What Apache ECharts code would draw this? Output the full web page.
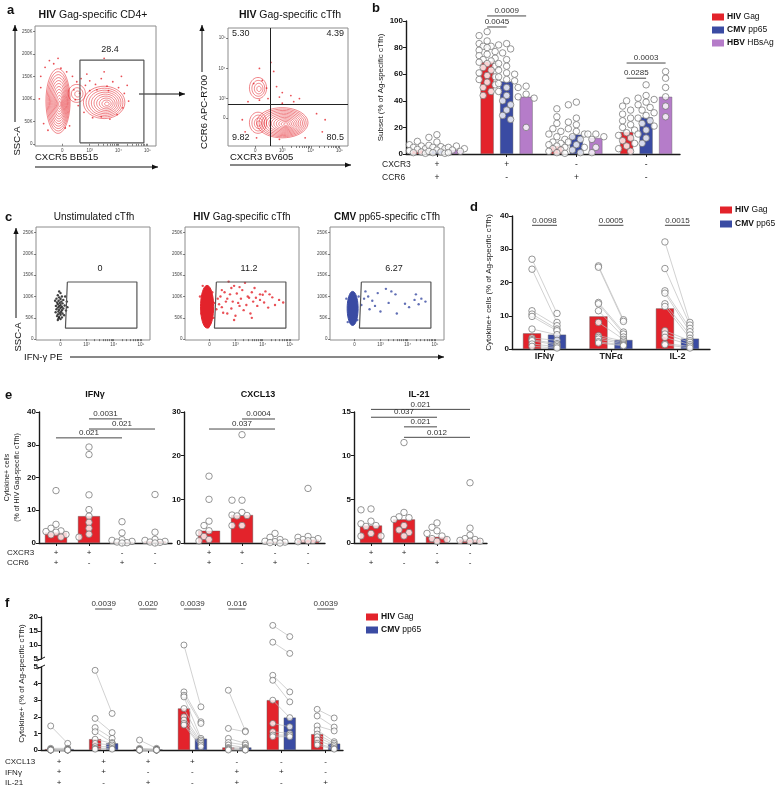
<!DOCTYPE html>
<html><head><meta charset="utf-8">
<script src="https://cdn.jsdelivr.net/npm/echarts@6/dist/echarts.min.js"></script>
<style>html,body{margin:0;padding:0;background:#fff}#c{width:777px;height:788px}</style>
</head><body><div id="c"></div>
<script>
// ---------------- DATA ----------------
// Panel a (flow, arbitrary display units)
const aLeftDots = [[1.3,150],[1.45,170],[1.6,185],[1.75,178],[2.0,168],[2.2,160],[2.4,150],[2.55,138],[2.7,145],[2.85,130],[3.0,140],[3.2,132],[3.4,145],[3.6,128],[3.8,138],[4.0,125],[4.2,112],[4.35,95],[4.15,80],[3.95,65],[3.7,55],[3.4,60],[3.1,58],[2.8,70],[2.6,85],[2.45,120],[2.3,40],[1.4,45],[1.55,30],[2.15,35],[1.25,100],[1.3,125],[2.5,98],[2.65,112],[3.0,118],[3.25,120],[3.65,118],[4.3,130],[4.1,150],[3.5,160],[2.9,155],[1.9,190],[3.5,190]];
const aLeftContours = [[1.9,95,0.42,72,12],[3.5,92,0.72,36,9],[2.55,112,0.3,20,3]];
const aLeftGate = [[2.66,2],[4.88,2],[4.88,186],[2.66,186],[2.66,2]];
const aLeftGateLabel = '28.4';
const aRightDots = [[2.3,3.6],[2.45,3.35],[2.7,3.9],[2.8,3.4],[3.0,3.2],[3.3,3.1],[3.6,3.0],[2.9,3.05],[2.2,2.95],[1.8,2.9],[2.0,3.5],[2.6,4.2],[4.2,2.5],[4.5,2.3],[1.6,2.3],[1.7,1.9],[2.1,1.7],[2.9,1.65],[3.8,1.7],[4.4,1.9],[3.0,2.85],[3.4,2.9],[2.5,3.0],[2.2,4.0]];
const aRightContours = [[3.0,2.2,0.9,0.5,12],[2.15,3.35,0.3,0.35,4],[2.15,2.2,0.3,0.35,4]];
const aQuadLabels = ['5.30','4.39','9.82','80.5'];
// Panel c (flow)
const cUnstimDots = [[2.0,112],[2.05,108],[1.95,103],[2.1,100],[2.0,98],[1.9,95],[2.05,94],[2.15,92],[1.98,90],[2.08,88],[1.92,86],[2.02,85],[2.12,84],[1.95,82],[2.05,80],[2.2,79],[1.88,78],[2.0,77],[2.1,76],[1.95,74],[2.05,73],[2.15,72],[1.9,70],[2.0,69],[2.1,68],[2.25,67],[1.97,65],[2.07,64],[1.87,63],[2.02,61],[2.12,60],[1.95,58],[2.05,57],[2.18,56],[1.92,54],[2.0,52],[2.1,51],[1.98,49],[2.05,47],[1.95,45],[2.3,75],[2.28,88],[1.85,90],[2.22,100]];
const cHivDots = [[2.35,95],[2.45,100],[2.6,110],[2.7,95],[2.8,105],[2.9,88],[3.05,107],[3.15,122],[3.25,115],[3.35,132],[3.5,97],[3.65,88],[3.75,97],[3.9,92],[4.0,104],[3.1,85],[3.4,80],[3.6,110],[2.75,135],[2.85,120],[2.5,75],[2.55,62],[2.95,125],[3.3,68],[3.55,60],[3.8,78],[4.05,86],[4.2,74],[2.4,82],[2.65,88],[2.3,70],[3.2,95],[3.45,100],[2.85,72],[3.0,55],[3.7,120],[4.1,112],[4.35,98],[4.45,80],[4.6,92],[4.75,86],[2.5,115],[2.95,45],[3.6,50],[3.9,105],[4.25,105],[2.7,60],[3.15,78],[1.7,100],[1.75,60],[2.15,110],[2.2,50],[1.8,125],[2.0,28],[1.9,35],[2.25,85]];
const cHivBlob = [[1.96,76,0.24,50]];
const cCmvDots = [[2.4,95],[2.55,100],[2.7,90],[2.9,108],[3.2,118],[3.4,112],[3.55,105],[3.3,85],[2.6,70],[2.8,78],[3.9,83],[4.05,75],[4.25,92],[4.3,105],[4.5,95],[4.4,82],[3.6,60],[2.45,112],[3.0,65],[4.65,88],[1.75,95],[2.2,100],[1.8,40],[2.15,45],[2.3,80]];
const cCmvBlob = [[1.98,72,0.2,40]];
const cGate = [[2.3,134],[4.85,134],[4.85,26],[2.23,26],[2.3,134]];
const cGateLabels = ['0','11.2','6.27'];

// Panel b
const bCXCR3 = ['+','+','-','-'];
const bCCR6  = ['+','-','+','-'];
const bBarHIV = [3, 69.5, 6, 16.5];
const bBarCMV = [3, 54.5, 14.5, 27.5];
const bBarHBV = [3, 43, 12, 43];
const bPtsHIV = [[9.5,7,6,5,4,3.5,2.5,1.5,1,0.5],
  [92,89,85,83,81,81,80,78,77,75,74,72,71,70,69,68,66,65,63,61,59,58,56,54,52,50,47,44],
  [34,28,23,19,17,15,13,11,9,8,7,6,5,4,3,2,1,0.5],
  [40,36,33,30,27,25,22,20,18,16,14,12,10,8,6,4,2]];
const bPtsCMV = [[14.5,12.5,9,6.5,5.5,5,4,3,2,1.5,1,0.5],
  [83,82,79,76,71,68,66,63,61,60,58,56,55,53,50,47,44,40,37,33,29,26],
  [39,37,27,24,22,19,17,15,13,11,9,7,5,3,1],
  [52,44,42,41,39,37,35,33,31,29,27,25,23,21,18,15,12,8]];
const bPtsHBV = [[6,5,4,3,2,1],[51,50,45,43,42,20],[15,15,13,11,5,1],[62,57,50,43,36,28]];
const bPvals = ['0.0045','0.0009','0.0003','0.0285'];

// Panel d
const dCats = ['IFNγ','TNFα','IL-2'];
const dBarHIV = [4.7, 9.8, 12.2];
const dBarCMV = [4.3, 2.7, 3.1];
const dPtsHIV = [[27,24,11.5,10.5,9.8,6,3.3,2.8,2.5,1.5,0.8],[25,24.6,14,13.6,11.5,8,4,3.5,3,2.2,1.8],[32.2,24.2,17.5,16.8,13.6,12.8,5.5,4.5,3.5,1.6,1.3]];
const dPtsCMV = [[10.7,8,7,6,5.5,4.3,2.6,1.6,1.2,0.7,0.3],[8.8,8.3,5.1,4.5,3.6,2.9,2.4,1.9,1.5,1.2,1.0],[8,7.2,6.2,5.2,4.2,3.2,2.5,2,1.3,0.8,0.3]];
const dPvals = ['0.0098','0.0005','0.0015'];

// Panel e
const eCXCR3 = ['+','+','-','-'];
const eCCR6  = ['+','-','+','-'];
const eTitles = ['IFNγ','CXCL13','IL-21'];
const eIFNgBar = [3.2, 8.2, 0.3, 0.5];
const eIFNgPts = [[16,5.7,4.5,3.7,3.5,3.3,2.6,2.5,1.8],[29.3,27,14.7,10.2,8.2,6.3,4.5,2.7,1.8],[6.5,3.1,1,0.8,0.5,0.3,0.1,0],[14.8,3.3,1.1,0.8,0.5,0.3,0.2,0]];
const eCXCL13Bar = [2.8, 6.4, 0.3, 0.8];
const eCXCL13Pts = [[15.3,10,5,4,2.8,2.3,1.5,0.8,0.5],[24.8,9.8,9.8,7,6.4,6.3,6.2,4,4],[2.2,1.3,0.8,0.4,0.3,0.2,0.1,0],[12.5,1.5,1.3,1,0.8,0.6,0.5,0.3]];
const eIL21Bar = [2.0, 2.7, 0.7, 0.4];
const eIL21Pts = [[3.9,3.8,2.5,2.2,2.0,1.9,1.1,0.8,0.8],[11.5,3.5,3.0,2.9,2.7,2.0,1.5,1.2,0.8],[2.3,1.8,1.4,1.1,0.8,0.5,0.4,0.2],[6.9,1.7,0.9,0.5,0.4,0.3,0.2,0.2]];
const eIFNgP = [[1,3,'0.021'],[2,4,'0.021'],[2,3,'0.0031']];
const eCXCL13P = [[1,3,'0.037'],[2,3,'0.0004']];
const eIL21P = [[1,4,'0.021'],[1,3,'0.037'],[2,3,'0.021'],[2,4,'0.012']];

// Panel f
const fCXCL13 = ['+','+','+','+','-','-','-'];
const fIFNg   = ['+','+','-','-','+','+','-'];
const fIL21   = ['+','-','+','-','+','-','+'];
const fBarHIV = [0.05, 0.65, 0.03, 2.5, 0.15, 3.0, 0.95];
const fBarCMV = [0.05, 0.4, 0.03, 0.68, 0.15, 1.95, 0.38];
const fPtsHIV = [[1.45,0.1,0.05,0.02,0,0,0,0,0],[4.8,1.9,1.35,1.1,0.65,0.4,0.2,0.1,0.05],[0.6,0.1,0.05,0.02,0,0,0,0,0],[10,3.5,3.3,3.2,2.5,2.0,1.8,1.6,1.5],[3.6,1.3,0.7,0.45,0.3,0.15,0.1,0.05,0],[17,11,4.5,4.2,3.0,1.6,1.1,0.9,0.8],[2.45,2.05,1.45,1.2,0.96,0.8,0.6,0.4,0.3]];
const fPtsCMV = [[0.4,0.1,0.05,0.02,0,0,0,0,0],[2.2,1.05,0.7,0.45,0.4,0.3,0.2,0.1,0.05],[0.1,0.05,0.02,0,0,0,0,0,0],[2.6,1.7,1.6,0.7,0.6,0.5,0.4,0.3,0.2],[1.15,1.1,0.4,0.3,0.15,0.1,0.05,0,0],[13,7,3.5,2.9,1.95,1.4,1.0,0.9,0.8],[1.93,1.38,1.15,0.5,0.4,0.3,0.2,0.1,0.05]];
const fPvals = ['', '0.0039', '0.020', '0.0039', '0.016', '', '0.0039'];

// ---------------- STYLE / LAYOUT ----------------
const FONT = '"Liberation Sans", Arial, Helvetica, sans-serif';
const RED = '#e3232b', BLUE = '#3a4ba3', PURPLE = '#b57cc9';
const grid = [], xAxis = [], yAxis = [], series = [], graphic = [];

function nearestIdx(arr, v){ let b = 0; for (let i = 1; i < arr.length; i++) if (Math.abs(arr[i]-v) < Math.abs(arr[b]-v)) b = i; return b; }
function txt(x, y, text, o = {}){
  graphic.push({type:'text', x, y, rotation:o.rot||0, silent:true, z:100,
    style:{text, fill:o.color||'#111', fontSize:o.size||9, fontFamily:FONT, fontWeight:o.weight||'normal',
      align:o.align||'left', verticalAlign:o.va||'middle', rich:o.rich}});
}
function richTitle(x, y, a, b, size, align){
  txt(x, y, `{b|${a}}{n| ${b}}`, {align:align||'center', rich:{
    b:{fontWeight:'bold', fontSize:size, fontFamily:FONT, fill:'#111', color:'#111'},
    n:{fontSize:size, fontFamily:FONT, fill:'#111', color:'#111'}}});
}
function arrow(x1, y1, x2, y2){
  graphic.push({type:'line', silent:true, shape:{x1, y1, x2, y2}, style:{stroke:'#111', lineWidth:1}});
  const a = Math.atan2(y2-y1, x2-x1), L = 6, W = 2.6;
  graphic.push({type:'polygon', silent:true, shape:{points:[[x2,y2],
    [x2-L*Math.cos(a)+W*Math.sin(a), y2-L*Math.sin(a)-W*Math.cos(a)],
    [x2-L*Math.cos(a)-W*Math.sin(a), y2-L*Math.sin(a)+W*Math.cos(a)]]}, style:{fill:'#111'}});
}
function legendBox(x, y, dy, items, size){
  items.forEach((it, k) => {
    graphic.push({type:'rect', silent:true, shape:{x, y:y+k*dy-3.5, width:12, height:7}, style:{fill:it[0]}});
    richTitle(x+15, y+k*dy, it[1], it[2], size, 'left');
  });
}
function ellipsePts(cx, cy, rx, ry){ const p = []; for (let i = 0; i < 40; i++){ const t = i/40*2*Math.PI; p.push([cx+rx*Math.cos(t), cy+ry*Math.sin(t)]); } return p; }

// ---------------- FLOW PANELS ----------------
const flowXTicks = [2.05].concat([3,4].flatMap(d => [1,2,3,4,5,6,7,8,9].map(k => d+Math.log10(k)))).concat([5]);
function flowPanel(o){
  const gi = grid.length;
  grid.push({left:o.left, top:o.top, width:o.width, height:o.height, show:true, borderColor:'#8c8c8c', borderWidth:1, backgroundColor:'rgba(0,0,0,0)'});
  const xi = xAxis.length, yi = yAxis.length;
  xAxis.push({gridIndex:gi, type:'value', min:o.xMin, max:o.xMax, axisLine:{show:false}, splitLine:{show:false},
    axisTick:{show:true, customValues:o.xTicks, length:2, lineStyle:{color:'#333', width:0.6}},
    axisLabel:{customValues:o.xLabVals, formatter:v => o.xLabs[nearestIdx(o.xLabVals, v)], fontSize:4.5, color:'#444', margin:2.5, fontFamily:FONT}});
  yAxis.push({gridIndex:gi, type:'value', min:o.yMin, max:o.yMax, axisLine:{show:false}, splitLine:{show:false},
    axisTick:{show:true, customValues:o.yLabVals, length:2, lineStyle:{color:'#333', width:0.6}},
    axisLabel:{customValues:o.yLabVals, formatter:v => o.yLabs[nearestIdx(o.yLabVals, v)], fontSize:4.5, color:'#444', margin:2.5, fontFamily:FONT}});
  if (o.contours) series.push({type:'custom', xAxisIndex:xi, yAxisIndex:yi, silent:true, z:2, data:o.contours, encode:{x:0, y:1},
    renderItem:(p, api) => { const c = api.coord([api.value(0), api.value(1)]); const s = api.size([api.value(2), api.value(3)]); const n = api.value(4); const ch = [];
      for (let k = 1; k <= n; k++) ch.push({type:'polygon', shape:{points:ellipsePts(c[0]+(n-k)*0.15*s[0]/n, c[1]+(n-k)*0.1*s[1]/n, s[0]*k/n, s[1]*k/n)}, style:{fill:'none', stroke:o.color, lineWidth:0.55}});
      return {type:'group', children:ch}; }});
  if (o.blobs) series.push({type:'custom', xAxisIndex:xi, yAxisIndex:yi, silent:true, z:2, data:o.blobs, encode:{x:0, y:1},
    renderItem:(p, api) => { const c = api.coord([api.value(0), api.value(1)]); const s = api.size([api.value(2), api.value(3)]);
      return {type:'polygon', shape:{points:ellipsePts(c[0], c[1], s[0], s[1])}, style:{fill:o.color, stroke:o.color, lineWidth:1}}; }});
  const sc = {type:'scatter', xAxisIndex:xi, yAxisIndex:yi, data:o.dots, symbolSize:o.dotSize||2.2, itemStyle:{color:o.color}, silent:true, z:3};
  if (o.quad) sc.markLine = {silent:true, symbol:'none', label:{show:false}, lineStyle:{color:'#222', width:1, type:'solid'}, data:[{xAxis:o.quad[0]}, {yAxis:o.quad[1]}]};
  series.push(sc);
  if (o.gate) series.push({type:'line', xAxisIndex:xi, yAxisIndex:yi, data:o.gate, showSymbol:false, symbol:'none', lineStyle:{color:'#555', width:1.2}, silent:true, z:4});
}
const decadeLabs = ['0','10³','10⁴','10⁵'];
const sscVals = [0,50,100,150,200,250], sscLabs = ['0','50K','100K','150K','200K','250K'];
flowPanel({left:35, top:26, width:121, height:120, xMin:1.1, xMax:5.3, yMin:-5, yMax:262, xTicks:flowXTicks, xLabVals:[2.05,3,4,5], xLabs:decadeLabs,
  yLabVals:sscVals, yLabs:sscLabs, color:RED, dots:aLeftDots, contours:aLeftContours, gate:aLeftGate, dotSize:1.8});
flowPanel({left:228, top:28, width:120, height:118, xMin:1.1, xMax:5.3, yMin:1.43, yMax:5.34, xTicks:flowXTicks, xLabVals:[2.05,3,4,5], xLabs:decadeLabs,
  yLabVals:[2.35,3,4,5], yLabs:decadeLabs, color:RED, dots:aRightDots, contours:aRightContours, quad:[2.57,2.8], dotSize:1.8});
const cLefts = [36, 185, 330];
const cDots = [cUnstimDots, cHivDots, cCmvDots], cBlobs = [null, cHivBlob, cCmvBlob], cCols = ['#111', RED, BLUE];
cLefts.forEach((l, k) => flowPanel({left:l, top:227, width:114, height:113, xMin:1.15, xMax:5.33, yMin:-2, yMax:263, xTicks:flowXTicks,
  xLabVals:[2.05,3,4,5], xLabs:decadeLabs, yLabVals:sscVals, yLabs:sscLabs, color:cCols[k], dots:cDots[k], blobs:cBlobs[k], gate:cGate, dotSize:2.4}));

// flow texts
txt(7, 10, 'a', {size:13, weight:'bold'});
richTitle(93, 15, 'HIV', 'Gag-specific CD4+', 10.5);
richTitle(290, 15, 'HIV', 'Gag-specific cTfh', 10.5);
txt(110, 50, aLeftGateLabel, {size:9, align:'center', color:'#222'});
txt(232, 34, aQuadLabels[0], {size:9, color:'#222'});
txt(344, 34, aQuadLabels[1], {size:9, align:'right', color:'#222'});
txt(232, 138, aQuadLabels[2], {size:9, color:'#222'});
txt(344, 138, aQuadLabels[3], {size:9, align:'right', color:'#222'});
arrow(15, 122, 15, 25);
txt(17, 141, 'SSC-A', {size:9.5, rot:Math.PI/2, align:'center'});
txt(35, 157, 'CXCR5 BB515', {size:9.5});
arrow(35, 167, 158, 167);
arrow(139, 94, 185, 94);
arrow(202, 72, 202, 25);
txt(204, 112, 'CCR6 APC-R700', {size:9.5, rot:Math.PI/2, align:'center'});
txt(230, 157, 'CXCR3 BV605', {size:9.5});
arrow(230, 165, 351, 165);
txt(5, 217, 'c', {size:13, weight:'bold'});
txt(94, 217, 'Unstimulated cTfh', {size:10, align:'center'});
richTitle(242, 217, 'HIV', 'Gag-specific cTfh', 10);
richTitle(387, 217, 'CMV', 'pp65-specific cTfh', 10);
cLefts.forEach((l, k) => txt(l+64, 269, cGateLabels[k], {size:9, align:'center', color:'#222'}));
arrow(16, 318, 16, 228);
txt(18, 337, 'SSC-A', {size:9.5, rot:Math.PI/2, align:'center'});
txt(24, 357, 'IFN-γ PE', {size:9.5});
arrow(70, 357, 444, 357);

// ---------------- BAR PANELS ----------------
function swarm(vals, pxY, d, step, maxK){
  const placed = [], out = [];
  vals.forEach(v => {
    const y = v*pxY; let best = 0, bestScore = -1;
    const cands = [0]; for (let k = 1; k <= maxK; k++) cands.push(-k*step, k*step);
    for (const c of cands){ let md = Infinity; for (const p of placed){ const dd = Math.hypot(p[0]-c, p[1]-y); if (dd < md) md = dd; }
      if (md >= d){ best = c; break; } if (md > bestScore){ bestScore = md; best = c; } }
    placed.push([best, y]); out.push(best);
  });
  return out;
}
function barPanel(o){
  const gi = grid.length;
  grid.push({left:o.left, top:o.top, width:o.width, height:o.height});
  const xi = xAxis.length, yi = yAxis.length;
  const n = o.nGroups, centers = Array.from({length:n}, (_, i) => i+1);
  const pxX = o.width/(o.xMax-o.xMin), pxY = o.height/(o.yMax-o.yMin);
  const T = o.yT || (v => v);
  const AX = {color:'#1a1a1a', width:1.4};
  xAxis.push({gridIndex:gi, type:'value', min:o.xMin, max:o.xMax, show:o.xShow !== false,
    axisLine:{show:true, onZero:false, lineStyle:AX}, splitLine:{show:false},
    axisTick:{show:true, customValues:centers, length:3, lineStyle:{color:'#1a1a1a', width:1}},
    axisLabel:{customValues:centers, formatter:v => o.xLabel(Math.round(v)-1), fontSize:o.xFont||8, lineHeight:o.xLH||12, margin:o.xMargin||4,
      color:'#222', fontFamily:FONT, fontWeight:o.xBold ? 'bold' : 'normal'}});
  const ya = {gridIndex:gi, type:'value', min:o.yMin, max:o.yMax, interval:o.yInt,
    axisLine:{show:true, lineStyle:AX}, axisTick:{show:true, length:3, lineStyle:{color:'#1a1a1a', width:1}}, splitLine:{show:false},
    axisLabel:{fontSize:8, fontWeight:'bold', color:'#111', margin:3, fontFamily:FONT},
    name:o.yName, nameLocation:'middle', nameGap:o.yNameGap, nameRotate:90,
    nameTextStyle:{fontSize:o.yNameSize||8, color:'#222', fontFamily:FONT, lineHeight:o.yNameLH||10}};
  if (o.yHideAxis){ ya.axisLine = {show:false}; ya.axisTick = {show:false}; ya.axisLabel = {show:false}; }
  yAxis.push(ya);
  const xOf = (g, s) => g + o.offsets[s]/pxX;
  const bars = [];
  o.sets.forEach((st, s) => st.bars.forEach((v, i) => bars.push({value:[xOf(i+1, s), T(v)], itemStyle:{color:st.color}})));
  series.push({type:'bar', xAxisIndex:xi, yAxisIndex:yi, barWidth:o.barWidth, data:bars, silent:true, z:2,
    itemStyle:{borderColor:'#555', borderWidth:0.4}});
  const pts = [], ptPos = [];
  o.sets.forEach((st, s) => { ptPos.push([]); st.pts.forEach((vals, i) => {
    const offs = o.paired ? vals.map(() => 0) : swarm(vals, pxY, o.dot*0.9, o.step, o.maxK);
    const pos = vals.map((v, k) => [xOf(i+1, s) + offs[k]/pxX, T(v)]);
    ptPos[s].push(pos); pos.forEach(p => pts.push(p)); }); });
  if (o.paired){
    const segs = [];
    ptPos[0].forEach((pos, i) => pos.forEach((p, k) => { const q = ptPos[1][i][k]; if (q) segs.push([p[0], p[1], q[0], q[1]]); }));
    series.push({type:'custom', xAxisIndex:xi, yAxisIndex:yi, silent:true, z:3, clip:false, data:segs, encode:{x:[0,2], y:[1,3]},
      renderItem:(p, api) => { const a = api.coord([api.value(0), api.value(1)]), b = api.coord([api.value(2), api.value(3)]);
        return {type:'line', shape:{x1:a[0], y1:a[1], x2:b[0], y2:b[1]}, style:{stroke:'#bdbdbd', lineWidth:0.7}}; }});
  }
  series.push({type:'scatter', xAxisIndex:xi, yAxisIndex:yi, data:pts, symbolSize:o.dot, silent:true, z:4, clip:false,
    itemStyle:{color:'#fff', borderColor:'#6e6e6e', borderWidth:0.9}});
  if (o.brackets){
    const bd = o.brackets.map(b => [xOf(b[0], b[1]), xOf(b[2], b[3]), b[4]]);
    series.push({type:'custom', xAxisIndex:xi, yAxisIndex:yi, silent:true, z:5, clip:false, data:bd, encode:{x:[0,1], y:2},
      renderItem:(p, api) => { const a = api.coord([api.value(0), api.value(2)]), b = api.coord([api.value(1), api.value(2)]);
        return {type:'group', children:[
          {type:'line', shape:{x1:a[0], y1:a[1], x2:b[0], y2:b[1]}, style:{stroke:'#333', lineWidth:0.9}},
          {type:'text', x:(a[0]+b[0])/2, y:a[1]-1, style:{text:o.brackets[p.dataIndex][5], fill:'#333', fontSize:8, fontFamily:FONT, align:'center', verticalAlign:'bottom'}}]}; }});
  }
}

// Panel b
txt(372, 8, 'b', {size:13, weight:'bold'});
barPanel({left:406, top:21, width:274, height:133, xMin:0.557, xMax:4.486, yMin:0, yMax:100, yInt:20, nGroups:4,
  xLabel:i => bCXCR3[i] + '\n' + bCCR6[i], xLH:13, xMargin:4, xFont:8.5,
  yName:'Subset (% of Ag-specific cTfh)', yNameGap:15, yNameSize:8,
  offsets:[-19.5, 0, 19.5], barWidth:13, dot:6.5, step:4, maxK:2,
  sets:[{color:RED, bars:bBarHIV, pts:bPtsHIV}, {color:BLUE, bars:bBarCMV, pts:bPtsCMV}, {color:PURPLE, bars:bBarHBV, pts:bPtsHBV}],
  brackets:[[2,0,2,1,95.5,bPvals[0]],[2,0,2,2,103.8,bPvals[1]],[4,0,4,2,68.4,bPvals[2]],[4,0,4,1,57,bPvals[3]]]});
txt(382, 165, 'CXCR3', {size:8.5, color:'#222'});
txt(382, 178, 'CCR6', {size:8.5, color:'#222'});
legendBox(712, 17, 13, [[RED,'HIV','Gag'],[BLUE,'CMV','pp65'],[PURPLE,'HBV','HBsAg']], 8.5);

// Panel d
txt(470, 207, 'd', {size:13, weight:'bold'});
barPanel({left:512, top:216, width:198, height:133, xMin:0.511, xMax:3.49, yMin:0, yMax:40, yInt:10, nGroups:3,
  xLabel:i => dCats[i], xBold:true, xFont:9, xLH:10, xMargin:3,
  yName:'Cytokine+ cells (% of Ag-specific cTfh)', yNameGap:18, yNameSize:8,
  offsets:[-12.5, 12.5], barWidth:18, dot:6.5, paired:true,
  sets:[{color:RED, bars:dBarHIV, pts:dPtsHIV}, {color:BLUE, bars:dBarCMV, pts:dPtsCMV}],
  brackets:dPvals.map((p, i) => [i+1, 0, i+1, 1, 37.2, p])});
legendBox(720, 210, 14, [[RED,'HIV','Gag'],[BLUE,'CMV','pp65']], 8.5);

// Panel e
txt(5, 395, 'e', {size:13, weight:'bold'});
const eCfg = [
  {left:39, width:133, xMin:0.485, yMax:40, yInt:10, bars:eIFNgBar, pts:eIFNgPts, p:eIFNgP, h:[32.1,34.8,37.9], title:95},
  {left:184, width:141, xMin:0.242, yMax:30, yInt:10, bars:eCXCL13Bar, pts:eCXCL13Pts, p:eCXCL13P, h:[26.1,28.4], title:258},
  {left:354, width:133, xMin:0.485, yMax:15, yInt:5, bars:eIL21Bar, pts:eIL21Pts, p:eIL21P, h:[15.3,14.4,13.3,12.1], title:419}];
eCfg.forEach((c, k) => {
  barPanel({left:c.left, top:412, width:c.width, height:131, xMin:c.xMin, xMax:4.515, yMin:0, yMax:c.yMax, yInt:c.yInt, nGroups:4,
    xLabel:i => eCXCR3[i] + '\n' + eCCR6[i], xLH:10, xMargin:5, xFont:8,
    yName:k === 0 ? 'Cytokine+ cells\n(% of HIV Gag-specific cTfh)' : '', yNameGap:17, yNameSize:7, yNameLH:10,
    offsets:[0], barWidth:22, dot:6.5, step:5, maxK:2,
    sets:[{color:RED, bars:c.bars, pts:c.pts}],
    brackets:c.p.map((b, j) => [b[0], 0, b[1], 0, c.h[j], b[2]])});
  txt(c.title, 395, eTitles[k], {size:9, weight:'bold', align:'center'});
});
txt(7, 553, 'CXCR3', {size:8, color:'#222'});
txt(7, 563, 'CCR6', {size:8, color:'#222'});

// Panel f (broken axis: 0-5 lower, 5-20 upper compressed)
txt(5, 603, 'f', {size:13, weight:'bold'});
const fLowH = 83, fGapH = 8, fUpH = 42, fPx = fLowH/5;
const fT = v => v <= 5 ? v : 5 + fGapH/fPx + (v-5)*(fUpH/15)/fPx;
const fTop = 750 - fT(20)*fPx;
const AXF = {color:'#1a1a1a', width:1.4};
grid.push({left:41, top:667, width:302, height:fLowH});
xAxis.push({gridIndex:grid.length-1, type:'value', min:0.59, max:7.39, axisLine:{show:true, lineStyle:AXF}, splitLine:{show:false},
  axisTick:{show:true, customValues:[1,2,3,4,5,6,7], length:3, lineStyle:{color:'#1a1a1a'}},
  axisLabel:{customValues:[1,2,3,4,5,6,7], formatter:v => { const i = Math.round(v)-1; return fCXCL13[i]+'\n'+fIFNg[i]+'\n'+fIL21[i]; },
    fontSize:8, lineHeight:10.5, margin:6.5, color:'#222', fontFamily:FONT}});
yAxis.push({gridIndex:grid.length-1, type:'value', min:0, max:5, interval:1, axisLine:{show:true, lineStyle:AXF},
  axisTick:{show:true, length:3, lineStyle:{color:'#1a1a1a'}}, splitLine:{show:false}, axisLabel:{fontSize:8, fontWeight:'bold', color:'#111', margin:3, fontFamily:FONT}});
grid.push({left:41, top:617, width:302, height:fUpH});
xAxis.push({gridIndex:grid.length-1, type:'value', min:0.59, max:7.39, show:false});
yAxis.push({gridIndex:grid.length-1, type:'value', min:5, max:20, interval:5, axisLine:{show:true, lineStyle:AXF},
  axisTick:{show:true, length:3, lineStyle:{color:'#1a1a1a'}}, splitLine:{show:false}, axisLabel:{fontSize:8, fontWeight:'bold', color:'#111', margin:3, fontFamily:FONT}});
barPanel({left:41, top:fTop, width:302, height:750-fTop, xMin:0.59, xMax:7.39, yMin:0, yMax:fT(20), yInt:1, nGroups:7, xShow:false,
  xLabel:i => '', yHideAxis:true, yT:fT,
  yName:'Cytokine+ (% of Ag-specific cTfh)', yNameGap:14, yNameSize:8,
  offsets:[-8.5, 8.5], barWidth:12, dot:6, paired:true,
  sets:[{color:RED, bars:fBarHIV, pts:fPtsHIV}, {color:BLUE, bars:fBarCMV, pts:fPtsCMV}],
  brackets:fPvals.map((p, i) => [i+1, 0, i+1, 1, (750-609)/fPx, p]).filter(b => b[5] !== '')});
graphic.push({type:'line', silent:true, shape:{x1:37, y1:661, x2:45, y2:657}, style:{stroke:'#1a1a1a', lineWidth:1}});
graphic.push({type:'line', silent:true, shape:{x1:37, y1:669, x2:45, y2:665}, style:{stroke:'#1a1a1a', lineWidth:1}});
txt(5, 762, 'CXCL13', {size:8, color:'#222'});
txt(5, 773, 'IFNγ', {size:8, color:'#222'});
txt(5, 783, 'IL-21', {size:8, color:'#222'});
legendBox(366, 617, 13, [[RED,'HIV','Gag'],[BLUE,'CMV','pp65']], 8.5);

const chart = echarts.init(document.getElementById('c'), null, {renderer:'canvas', width:777, height:788});
chart.setOption({animation:false, backgroundColor:'#fff', textStyle:{fontFamily:FONT}, grid, xAxis, yAxis, series, graphic});
</script></body></html>
